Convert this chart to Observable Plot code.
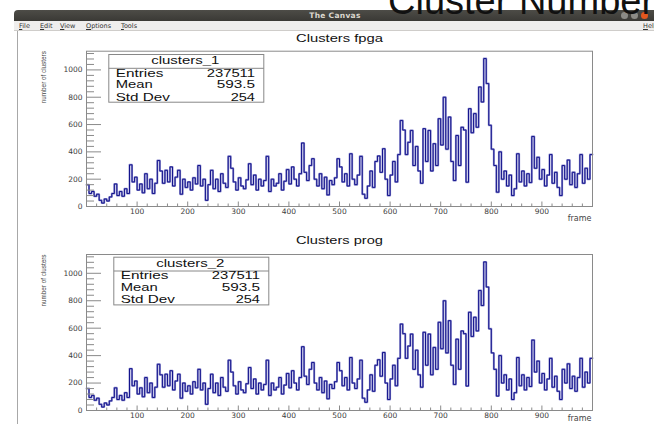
<!DOCTYPE html>
<html>
<head>
<meta charset="utf-8">
<script src="https://cdn.jsdelivr.net/npm/d3@7"></script>
<script src="https://cdn.jsdelivr.net/npm/@observablehq/plot@0.6"></script>
<style>
  html, body { margin: 0; padding: 0; background: #fff; }
  body { width: 654px; height: 424px; overflow: hidden; position: relative;
         font-family: "Liberation Sans", Arial, sans-serif; }
  #behind { position: absolute; left: 388px; top: -18px; font-size: 38px; line-height: 38px;
            color: #111; white-space: nowrap; z-index: 2; }
  #titlebar { position: absolute; left: 14px; top: 10px; width: 660px; height: 11px;
              background: linear-gradient(#4d4c47, #3a3935); border-radius: 4px 4px 0 0; }
  #titlebar .name { position: absolute; left: 321px; top: 1px; transform: translateX(-50%);
                    font: bold 7.5px "DejaVu Sans", sans-serif; color: #dcd8cf; letter-spacing: 0.3px; }
  .btn { position: absolute; top: 2px; width: 7px; height: 7px; border-radius: 50%; background: #8c8b86; }
  #menubar { position: absolute; left: 14px; top: 21px; width: 660px; height: 9px;
             background: #efeeed; border-bottom: 1px solid #cfcdca; }
  #menubar span { position: absolute; top: 1px; font: 6.5px "DejaVu Sans", sans-serif; color: #333; }
  #menubar span u { text-decoration: underline; }
  #canvas { position: absolute; left: 17px; top: 31px; width: 637px; height: 393px;
            background: #fff; border-left: 1px solid #a8a8a8; }
  .pad { position: absolute; left: 18px; }
</style>
</head>
<body>
<div id="behind">Cluster Number</div>
<div id="titlebar">
  <span class="name">The Canvas</span>
  <span class="btn" style="left:607px"></span>
  <span class="btn" style="left:617px"></span>
  <span class="btn" style="left:627px;background:#e2571e"></span>
</div>
<div id="menubar">
  <span style="left:5px"><u>F</u>ile</span>
  <span style="left:26px"><u>E</u>dit</span>
  <span style="left:46px"><u>V</u>iew</span>
  <span style="left:72px"><u>O</u>ptions</span>
  <span style="left:107px"><u>T</u>ools</span>
  <span style="left:629px"><u>H</u>elp</span>
</div>
<div id="canvas"></div>
<script>
// Clusters per frame, 5-frame bins starting at frame 0
const binWidth = 5;
const fpgaCounts = [
  160, 95, 110, 75, 90, 45, 25, 55, 40, 70,
  95, 165, 80, 110, 75, 130, 95, 305, 180, 215,
  120, 165, 100, 240, 130, 200, 95, 170, 337, 260,
  170, 265, 180, 290, 150, 215, 265, 90, 200, 140,
  180, 120, 210, 165, 300, 150, 200, 45, 160, 265,
  130, 200, 110, 240, 170, 140, 367, 280, 180, 120,
  210, 150, 130, 195, 313, 160, 230, 120, 200, 150,
  190, 367, 110, 200, 150, 170, 240, 120, 185, 270,
  165, 290, 200, 150, 240, 465, 250, 190, 300, 350,
  200, 150, 240, 130, 215, 85, 190, 160, 210, 350,
  290, 180, 240, 150, 386, 200, 160, 230, 367, 90,
  60, 150, 260, 140, 330, 370, 250, 423, 200, 80,
  230, 330, 180, 380, 630, 560, 380, 470, 557, 300,
  440, 260, 170, 570, 330, 557, 260, 460, 300, 643,
  450, 800, 420, 655, 330, 190, 520, 300, 580, 560,
  178, 716, 540, 680, 580, 875, 765, 1083, 900, 595,
  420, 300, 105, 400, 200, 260, 150, 230, 80, 130,
  386, 180, 260, 150, 240, 175, 513, 280, 360, 200,
  270, 150, 230, 380, 170, 250, 140, 80, 300, 200,
  340, 160, 250, 140, 240, 380, 170, 280, 200, 380
];
// the software run reproduces the fpga counts bin for bin
const progCounts = fpgaCounts.slice();

const xTickValues = [100, 200, 300, 400, 500, 600, 700, 800, 900];
const yTickValues = [0, 200, 400, 600, 800, 1000];
const statNames = ["Entries", "Mean", "Std Dev"];
const fpgaStats = ["237511", "593.5", "254"];
const progStats = ["237511", "593.5", "254"];

const xRange = [0, 1000];
const yRange = [0, 1137];

function histRows(counts) {
  const rows = counts.map((c, i) => ({frame: i * binWidth, count: c}));
  rows.push({frame: counts.length * binWidth, count: counts[counts.length - 1]});
  return rows;
}

function stretch(svg, content, len) {
  d3.select(svg).selectAll("text")
    .filter(function () { return this.textContent === content; })
    .attr("textLength", len).attr("lengthAdjust", "spacingAndGlyphs");
}

function drawPad(opts) {
  const W = 636, ml = 68, mr = 62;
  const fw = W - ml - mr;
  const fh = opts.height - opts.mt - opts.mb;
  const xMinor = d3.range(20, 1000, 20).filter(v => v % 100 !== 0);
  const yMinor = d3.range(40, yRange[1], 40).filter(v => v % 200 !== 0);
  const axisColor = "#8a8a8a";
  const rows = histRows(opts.counts);

  const svg = Plot.plot({
    width: W, height: opts.height,
    marginLeft: ml, marginRight: mr, marginTop: opts.mt, marginBottom: opts.mb,
    x: {domain: xRange},
    y: {domain: yRange},
    style: {fontFamily: "DejaVu Sans", fontSize: "7.5px", color: "#404040", background: "transparent"},
    marks: [
      // soft halo under the histogram outline, then the outline itself
      Plot.line(rows, {x: "frame", y: "count", curve: "step-after",
        stroke: "#9090d0", strokeWidth: 2}),
      Plot.line(rows, {x: "frame", y: "count", curve: "step-after",
        stroke: "#14148c", strokeWidth: 1}),
      Plot.tickY(yTickValues, {y: d => d, insetRight: fw - 15, stroke: axisColor}),
      Plot.tickY(yMinor, {y: d => d, insetRight: fw - 8, stroke: axisColor}),
      Plot.tickX(xTickValues, {x: d => d, insetTop: fh - 4.5, stroke: axisColor}),
      Plot.tickX(xMinor, {x: d => d, insetTop: fh - 2.5, stroke: axisColor}),
      Plot.axisX({ticks: xTickValues, tickSize: 0, tickPadding: 2.4, label: null, tickFormat: d => String(d)}),
      Plot.axisY({ticks: yTickValues, tickSize: 0, tickPadding: 4, label: null, tickFormat: d => String(d)}),
      Plot.frame({stroke: axisColor}),
      Plot.text([opts.title], {text: d => d, frameAnchor: "top", lineAnchor: "bottom",
        dy: opts.titleDy, fontFamily: "Liberation Sans", fontSize: 11.5, fill: "#111"}),
      Plot.text(["number of clusters"], {text: d => d, frameAnchor: "top-left", rotate: -90,
        textAnchor: "end", lineAnchor: "middle", dx: -43, dy: 0,
        fontFamily: "Liberation Sans", fontSize: 8, fill: "#444"}),
      Plot.text(["frame"], {text: d => d, frameAnchor: "bottom-right", textAnchor: "end",
        lineAnchor: "bottom", dx: -1, dy: opts.frameLabelDy, fontSize: 8, fill: "#444"})
    ]
  });

  stretch(svg, opts.title, 87);
  stretch(svg, "number of clusters", 52);

  // statistics box
  const L = ml + opts.boxDx, T = opts.mt + opts.boxDy;
  const g = d3.select(svg).append("g")
    .attr("font-family", "Liberation Sans").attr("font-size", 10.5).attr("fill", "#111");
  g.append("rect").attr("x", L + 0.5).attr("y", T + 0.5).attr("width", 155).attr("height", 47.7)
    .attr("fill", "#fff").attr("stroke", "#888");
  g.append("line").attr("x1", L + 0.5).attr("x2", L + 155.5).attr("y1", T + 14.3).attr("y2", T + 14.3)
    .attr("stroke", "#888");
  g.append("text").text(opts.hist).attr("x", L + 77).attr("y", T + 10)
    .attr("text-anchor", "middle").attr("textLength", 68.3).attr("lengthAdjust", "spacingAndGlyphs");
  const nameW = [47.7, 37, 54.3];
  const valW = [48.3, 38.3, 24.3];
  const baselines = [22.7, 34.4, 46.6];
  statNames.forEach((name, i) => {
    g.append("text").text(name).attr("x", L + 7.4).attr("y", T + baselines[i])
      .attr("text-anchor", "start")
      .attr("textLength", nameW[i]).attr("lengthAdjust", "spacingAndGlyphs");
    g.append("text").text(opts.stats[i]).attr("x", L + 146.7).attr("y", T + baselines[i])
      .attr("text-anchor", "end").attr("textLength", valW[i]).attr("lengthAdjust", "spacingAndGlyphs");
  });

  svg.classList.add("pad");
  svg.style.top = opts.top + "px";
  document.body.appendChild(svg);
}

drawPad({top: 31, height: 197, mt: 19.7, mb: 22, title: "Clusters fpga", titleDy: -9,
  frameLabelDy: 14, counts: fpgaCounts, hist: "clusters_1", stats: fpgaStats, boxDx: 22.3, boxDy: 3.3});
drawPad({top: 232, height: 192, mt: 22, mb: 14, title: "Clusters prog", titleDy: -10.5,
  frameLabelDy: 10.7, counts: progCounts, hist: "clusters_2", stats: progStats, boxDx: 27.3, boxDy: 2.7});
</script>
</body>
</html>
